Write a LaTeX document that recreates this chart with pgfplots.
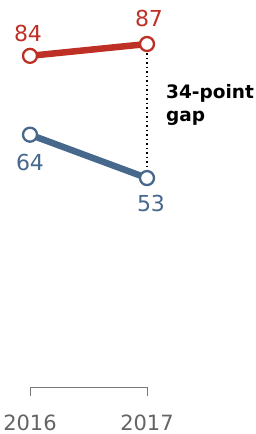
\documentclass[border=0pt]{standalone}
\usepackage{pgfplots}
\pgfplotsset{compat=1.18}
\usepackage{fontspec}
\setmainfont{DejaVu Sans}
\definecolor{pred}{RGB}{190,48,38}
\definecolor{pblue}{RGB}{70,104,140}
\definecolor{axgray}{RGB}{120,120,120}
\definecolor{lblgray}{RGB}{100,100,100}
\begin{document}
\begin{tikzpicture}
\begin{axis}[
  at={(0,0)}, anchor=south west,
  scale only axis, width=117pt, height=343pt,
  xmin=2016, xmax=2017, ymin=0, ymax=87,
  clip=false,
  axis x line*=bottom, axis y line=none,
  x axis line style={-, draw=axgray, line width=0.8pt},
  xtick={2016,2017}, xticklabels={2016,2017},
  tick align=outside, major tick length=9pt,
  xtick style={draw=axgray, line width=0.8pt},
  ytick=\empty,
  xticklabel style={font=\fontsize{21}{24}\selectfont, text=lblgray, anchor=north, yshift=-15pt},
]
\addplot[black, line width=1.5pt, dash pattern=on 1.5pt off 3pt] coordinates {(2017,87) (2017,53)};
\addplot[pred, line width=6.5pt, mark=*, mark size=7pt,
  mark options={fill=white, draw=pred, line width=2.3pt}] coordinates {(2016,84) (2017,87)};
\addplot[pblue, line width=6.5pt, mark=*, mark size=7pt,
  mark options={fill=white, draw=pblue, line width=2.3pt}] coordinates {(2016,64) (2017,53)};
\node[anchor=base, text=pred, font=\fontsize{22}{24}\selectfont, inner sep=0pt, yshift=14pt, xshift=-2pt] at (axis cs:2016,84) {84};
\node[anchor=base, text=pred, font=\fontsize{22}{24}\selectfont, inner sep=0pt, yshift=18pt, xshift=2pt] at (axis cs:2017,87) {87};
\node[anchor=base, text=pblue, font=\fontsize{22}{24}\selectfont, inner sep=0pt, yshift=-36pt] at (axis cs:2016,64) {64};
\node[anchor=base, text=pblue, font=\fontsize{22}{24}\selectfont, inner sep=0pt, yshift=-33pt, xshift=4pt] at (axis cs:2017,53) {53};
\end{axis}
\node[anchor=base west, inner sep=0pt, font=\bfseries\fontsize{18.5}{21}\selectfont] at (136pt,288pt) {34-point};
\node[anchor=base west, inner sep=0pt, font=\bfseries\fontsize{18.5}{21}\selectfont] at (136pt,265pt) {gap};
\pgfresetboundingbox
\path (-30pt,-47pt) rectangle (226pt,387pt);
\end{tikzpicture}
\end{document}
